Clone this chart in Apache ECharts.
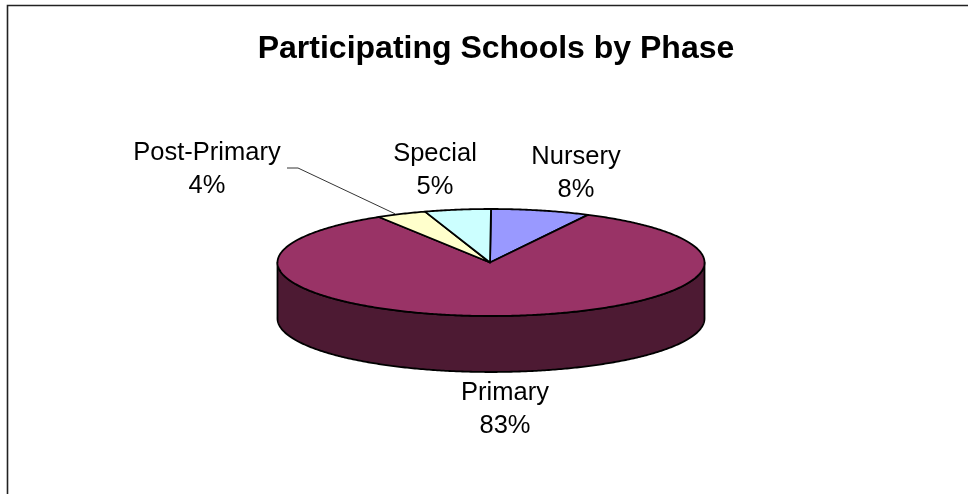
<!DOCTYPE html>
<html>
<head>
<meta charset="utf-8">
<style>html,body{margin:0;padding:0;background:#fff}#c{width:968px;height:494px}</style>
<script src="https://cdn.jsdelivr.net/npm/echarts@6/dist/echarts.min.js"></script>
</head>
<body>
<div id="c"></div>
<script>
const titleText = 'Participating Schools by Phase';
const categories = ['Nursery', 'Primary', 'Post-Primary', 'Special'];
const shares = [7.5, 83.7, 3.8, 5.0];
const percentLabels = ['8%', '83%', '4%', '5%'];

const topColors = ['#9999ff', '#993366', '#ffffcc', '#ccffff'];
const sideColors = ['#4d4d80', '#4d1a33', '#808066', '#668080'];
const labelCenters = [[576, 173], [505, 409], [207, 169], [435, 170]];
const pie = { cx: 491, cy: 262.5, rx: 213.5, ry: 53.5, depth: 56 };
const leaderIndex = 2;
const leaderStart = [287, 168];
const leaderElbow = [298, 168];
const leaderFraction = 0.36;

const total = shares.reduce((a, b) => a + b, 0);
const starts = [];
shares.reduce((acc, v, i) => { starts[i] = acc; return acc + v; }, 0);

function pt(theta, dy) {
  return [pie.cx + pie.rx * Math.sin(theta), pie.cy - pie.ry * Math.cos(theta) + (dy || 0)];
}
function arc(a0, a1, dy) {
  const n = Math.max(2, Math.ceil(Math.abs(a1 - a0) / 0.01));
  const out = [];
  for (let k = 0; k <= n; k++) out.push(pt(a0 + (a1 - a0) * k / n, dy));
  return out;
}
function renderItem(params, api) {
  const i = api.value(0);
  const a0 = starts[i] / total * 2 * Math.PI;
  const a1 = (starts[i] + shares[i]) / total * 2 * Math.PI;
  const children = [];
  const f0 = Math.max(a0, Math.PI / 2), f1 = Math.min(a1, Math.PI * 1.5);
  const stroke = { stroke: '#000', lineWidth: 1.8, lineJoin: 'round' };
  if (f1 > f0) {
    const pts = arc(f0, f1, 0).concat(arc(f1, f0, pie.depth));
    children.push({ type: 'polygon', shape: { points: pts }, style: { fill: sideColors[i], ...stroke } });
  }
  children.push({
    type: 'polygon',
    shape: { points: [[pie.cx - 1, pie.cy]].concat(arc(a0, a1, 0)) },
    style: { fill: topColors[i], ...stroke }
  });
  if (i === leaderIndex) {
    const end = pt(a0 + (a1 - a0) * leaderFraction, -1);
    children.push({
      type: 'polyline',
      shape: { points: [leaderStart, leaderElbow, end] },
      style: { stroke: '#000', lineWidth: 0.8, fill: null }
    });
  }
  children.push({
    type: 'text',
    style: {
      text: categories[i] + '\n' + percentLabels[i],
      x: labelCenters[i][0], y: labelCenters[i][1],
      align: 'center', verticalAlign: 'middle',
      fill: '#000', lineHeight: 33,
      font: '400 25.5px "Liberation Sans", Arial, sans-serif'
    }
  });
  return { type: 'group', children };
}

const chart = echarts.init(document.getElementById('c'), null, { renderer: 'canvas' });
chart.setOption({
  animation: false,
  backgroundColor: '#ffffff',
  title: {
    text: titleText, left: 491, top: 28, textAlign: 'center',
    textStyle: { fontFamily: '"Liberation Sans", Arial, sans-serif', fontSize: 32, fontWeight: 'bold', color: '#000' }
  },
  graphic: [{
    type: 'polyline', silent: true, z: 10,
    shape: { points: [[7.5, 494], [7.5, 5.5], [968, 5.5]] },
    style: { stroke: '#222', lineWidth: 1.6, fill: null }
  }],
  series: [{
    type: 'custom',
    coordinateSystem: 'none',
    silent: true,
    clip: false,
    renderItem,
    data: categories.map((c, i) => [i, shares[i]])
  }]
});
</script>
</body>
</html>
